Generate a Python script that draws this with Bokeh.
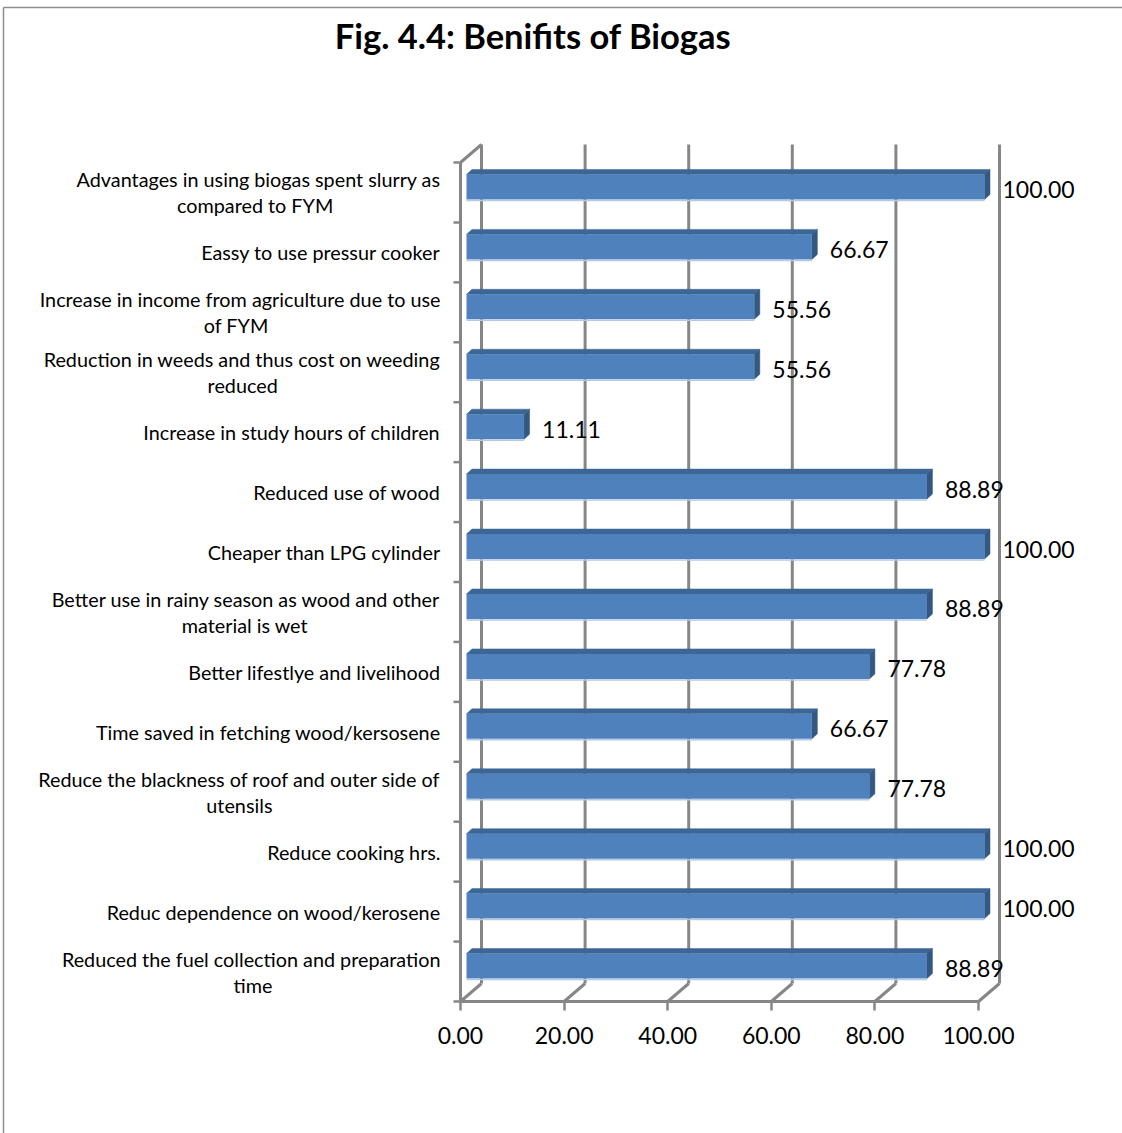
from bokeh.plotting import figure
from bokeh.models import Range1d, ColumnDataSource, FixedTicker, NumeralTickFormatter
from bokeh.core.properties import value
from bokeh.embed import file_html
from bokeh.resources import INLINE

# ---------------- data ----------------
title_text = "Fig. 4.4: Benifits of Biogas"
categories = [
    "Advantages in using biogas spent slurry as\ncompared to FYM",
    "Eassy to use pressur cooker",
    "Increase in income from agriculture due to use\nof FYM",
    "Reduction in weeds and thus cost on weeding\nreduced",
    "Increase in study hours of children",
    "Reduced use of wood",
    "Cheaper than LPG cylinder",
    "Better use in rainy season as wood and other\nmaterial is wet",
    "Better lifestlye and livelihood",
    "Time saved in fetching wood/kersosene",
    "Reduce the blackness of roof and outer side of\nutensils",
    "Reduce cooking hrs.",
    "Reduc dependence on wood/kerosene",
    "Reduced the fuel collection and preparation\ntime",
]
values = [100.00, 66.67, 55.56, 55.56, 11.11, 88.89, 100.00, 88.89,
          77.78, 66.67, 77.78, 100.00, 100.00, 88.89]
x_ticks = [0, 20, 40, 60, 80, 100]

# ---------------- geometry (pixels) ----------------
W, H = 1122, 1133
X0_PX, X100_PX = 460, 978
Y_FLOOR_PX, Y_TOP_PX = 1001, 162
n = len(categories)
SX = (X100_PX - X0_PX) / 100.0
SY = (Y_FLOOR_PX - Y_TOP_PX) / n


def px_to_x(px):
    return (px - X0_PX) / SX


def px_to_y(py):
    return (Y_FLOOR_PX - py) / SY


DX, DY = 21 / SX, 18 / SY          # wall depth
BX, BY = 6 / SX, 5.5 / SY          # bar front offset
BDX, BDY = 5.5 / SX, 5 / SY        # bar depth
BH = 25 / SY                       # bar thickness

FONT = "Lato"
GRAY = "#868686"

p = figure(width=W, height=H, x_range=Range1d(px_to_x(0), px_to_x(W)),
           y_range=Range1d(px_to_y(H), px_to_y(0)),
           output_backend="svg", toolbar_location=None, min_border=0,
           y_axis_location=None, x_axis_location="below")
p.grid.visible = False
p.outline_line_color = None
p.background_fill_color = "white"
p.border_fill_color = "white"

# x axis pinned to the front floor edge
ax = p.xaxis[0]
ax.fixed_location = 0
ax.ticker = FixedTicker(ticks=x_ticks)
ax.formatter = NumeralTickFormatter(format="0.00")
ax.axis_line_color = None
ax.major_tick_line_color = GRAY
ax.major_tick_line_width = 2.5
ax.major_tick_in = 0
ax.major_tick_out = 9
ax.minor_tick_line_color = None
ax.major_label_text_font = FONT
ax.major_label_text_font_size = "23px"
ax.major_label_text_color = "black"
ax.major_label_standoff = 16

# ---------------- outer border ----------------
p.segment(x0=[px_to_x(3), px_to_x(3)], y0=[px_to_y(7), px_to_y(7)],
          x1=[px_to_x(W), px_to_x(3)], y1=[px_to_y(7), px_to_y(H)],
          line_color="#8e8e8e", line_width=1.5)

# ---------------- walls / gridlines ----------------
sx0, sy0, sx1, sy1 = [], [], [], []
for t in x_ticks:
    sx0 += [t + DX, t]
    sy0 += [DY, 0]
    sx1 += [t + DX, t + DX]
    sy1 += [n + DY, DY]
# left wall front edge and top
sx0 += [0, 0]
sy0 += [0, n]
sx1 += [0, DX]
sy1 += [n, n + DY]
# front floor edge
sx0.append(0)
sy0.append(0)
sx1.append(x_ticks[-1])
sy1.append(0)
p.segment(x0=sx0, y0=sy0, x1=sx1, y1=sy1, line_color=GRAY, line_width=3)

# category ticks on the left wall
p.segment(x0=[-7 / SX] * (n + 1), y0=list(range(n + 1)), x1=[0] * (n + 1),
          y1=list(range(n + 1)), line_color=GRAY, line_width=2.5)

# ---------------- 3D bars ----------------
yc = [n - i - 0.5 for i in range(n)]
bot = [y + BY - BH / 2 for y in yc]
top = [y + BY + BH / 2 for y in yc]
right = [v + BX for v in values]

top_xs = [[BX, r, r + BDX, BX + BDX] for r in right]
top_ys = [[t, t, t + BDY, t + BDY] for t in top]
side_xs = [[r, r, r + BDX, r + BDX] for r in right]
side_ys = [[b, t, t + BDY, b + BDY] for b, t in zip(bot, top)]

p.patches(xs=top_xs, ys=top_ys, fill_color="#3c6696", line_color="#3c6696", line_width=0.5)
p.patches(xs=side_xs, ys=side_ys, fill_color="#335882", line_color="#335882", line_width=0.5)
p.quad(left=[BX] * n, right=right, bottom=bot, top=top,
       fill_color="#4f81bd", line_color=None)
p.segment(x0=[BX] * n, y0=[b - 1 / SY for b in bot], x1=right, y1=[b - 1 / SY for b in bot],
          line_color="#b4c9e3", line_width=1.5)

# value labels
p.text(x=[r + 18 / SX for r in right], y=[y + BY - 2.5 / SY for y in yc],
       text=["%.2f" % v for v in values], text_align="left", text_baseline="middle",
       text_font=value(FONT), text_font_size="23px", text_color="black")

# ---------------- category labels ----------------
AW = {' ': .278, 'a': .556, 'b': .556, 'c': .5, 'd': .556, 'e': .556, 'f': .278, 'g': .556,
      'h': .556, 'i': .222, 'j': .222, 'k': .5, 'l': .222, 'm': .833, 'n': .556, 'o': .556,
      'p': .556, 'q': .556, 'r': .333, 's': .5, 't': .278, 'u': .556, 'v': .5, 'w': .722,
      'x': .5, 'y': .5, 'z': .5, '.': .278, '/': .278}
CAT_SIZE = 19.8
K = 0.985


def est_width(s):
    return sum(AW.get(c, .667) for c in s) * CAT_SIZE * K


LABEL_RIGHT = px_to_x(440)
lx, ly, lt, la = [], [], [], []
for i, cat in enumerate(categories):
    lines = cat.split("\n")
    if len(lines) == 1:
        lx.append(LABEL_RIGHT); ly.append(yc[i]); lt.append(lines[0]); la.append("right")
    else:
        w1 = est_width(lines[0])
        lx.append(LABEL_RIGHT); ly.append(yc[i] + 13 / SY); lt.append(lines[0]); la.append("right")
        lx.append(LABEL_RIGHT - (w1 / 2) / SX); ly.append(yc[i] - 13 / SY); lt.append(lines[1]); la.append("center")
src = ColumnDataSource(dict(x=lx, y=ly, text=lt, align=la))
p.text(x="x", y="y", text="text", text_align="align", source=src, text_baseline="middle",
       text_font=value(FONT), text_font_size="%.1fpx" % CAT_SIZE, text_color="black")

# ---------------- title ----------------
p.text(x=[px_to_x(532.5)], y=[px_to_y(35)], text=[title_text], text_align="center",
       text_baseline="middle", text_font=value(FONT), text_font_style="bold",
       text_font_size="34.5px", text_color="black")

open("out.html", "w").write(file_html(p, INLINE))
